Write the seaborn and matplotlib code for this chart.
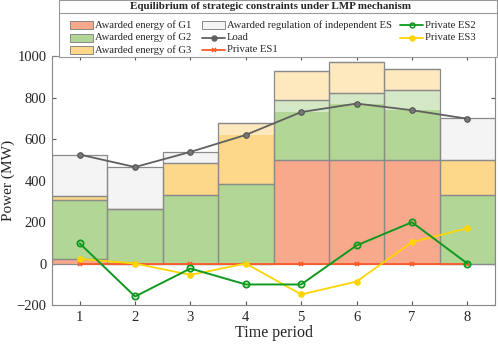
import numpy as np
import pandas as pd
import seaborn as sns
import matplotlib.pyplot as plt
from matplotlib.patches import Rectangle
from matplotlib.lines import Line2D
from matplotlib.colors import to_rgb

periods = [1, 2, 3, 4, 5, 6, 7, 8]
g1 = [22, 0, 0, 0, 500, 500, 500, 0]
g2 = [282, 265, 332, 385, 290, 324, 337, 329]
g3 = [22, 0, 153, 293, 137, 145, 99, 172]
es_reg = [199, 201, 53, 0, 0, 0, 0, 198]
load = [525, 465, 538, 620, 730, 771, 739, 698]
es1 = [0, 0, 0, 0, 0, 0, 0, 0]
es2 = [97, -159, -24, -101, -101, 87, 199, 0]
es3 = [22, 0, -55, 0, -149, -87, 103, 170]

c_g1 = '#F9A98B'
c_g2 = '#B2D695'
c_g3 = '#FDD78A'
c_es = '#F4F4F4'
c_load = '#606060'
c_es1 = '#FF5A28'
c_es2 = '#0E9A1E'
c_es3 = '#FFD500'

sns.set_style('ticks')
plt.rcParams['font.family'] = ['Liberation Serif', 'DejaVu Serif']

W, H = 498, 346
fig = plt.figure(figsize=(W / 100, H / 100), dpi=100)
ax = fig.add_axes([0.1044, 0.1185, 0.8896, 0.7195])


def fade(c, a=0.55):
    r = np.array(to_rgb(c))
    return tuple(r * a + (1 - a))


layers = [(g1, c_g1), (g2, c_g2), (g3, c_g3), (es_reg, c_es)]
x = np.array(periods)
L = np.array(load, dtype=float)
bottom = np.zeros(len(x))
for vals, col in layers:
    v = np.array(vals, dtype=float)
    top = bottom + v
    ax.bar(x, v, bottom=bottom, width=1.0, color=fade(col), linewidth=0)
    hi = np.minimum(top, np.maximum(L, bottom))
    ax.bar(x, hi - bottom, bottom=bottom, width=1.0, color=col, linewidth=0)
    bottom = top

bottom = np.zeros(len(x))
for vals, col in layers:
    v = np.array(vals, dtype=float)
    ax.bar(x, v, bottom=bottom, width=1.0, fill=False,
           edgecolor='#8a8a8a', linewidth=0.9)
    bottom = bottom + v

df = pd.DataFrame({'t': periods, 'load': load, 'es1': es1, 'es2': es2, 'es3': es3})
sns.lineplot(data=df, x='t', y='load', ax=ax, color=c_load, lw=1.3,
             marker='o', ms=4, mfc='#777777', mec='#505050')
sns.lineplot(data=df, x='t', y='es1', ax=ax, color=c_es1, lw=1.3,
             marker='x', ms=3.5, mew=1.2, mec=c_es1)
sns.lineplot(data=df, x='t', y='es3', ax=ax, color=c_es3, lw=1.3,
             marker='o', ms=4, mfc=c_es3, mec=c_es3)
sns.lineplot(data=df, x='t', y='es2', ax=ax, color=c_es2, lw=1.4,
             marker='o', ms=4.5, mfc='none', mec=c_es2, mew=1.3)

ax.set_xlim(0.5, 8.5)
ax.set_ylim(-200, 1000)
ax.set_xticks(periods)
ax.set_yticks(np.arange(-200, 1001, 200))
ax.tick_params(direction='in', length=3, labelsize=10.5, top=True, right=True,
               color='#555555', pad=4)
for s in ax.spines.values():
    s.set_color('#888888')
    s.set_linewidth(0.8)
ax.set_xlabel('Time period', fontsize=11.5, labelpad=1)
ax.set_ylabel('Power (MW)', fontsize=11, labelpad=1)


# legend box drawn by hand, in pixel coordinates from top-left
def fx(px):
    return px / W


def fy(py):
    return 1 - py / H


fig.add_artist(Rectangle((fx(59), fy(57)), fx(497) - fx(59), fy(0.5) - fy(57),
                         transform=fig.transFigure, facecolor='white',
                         edgecolor='#999999', lw=0.8, zorder=5))
fig.add_artist(Line2D([fx(59), fx(497)], [fy(12.5), fy(12.5)],
                      color='#999999', lw=0.8, transform=fig.transFigure, zorder=6))
fig.text(fx(270), fy(6.5), 'Equilibrium of strategic constraints under LMP mechanism',
         ha='center', va='center', fontsize=7.9, fontweight='bold', zorder=7)

rows = [25, 37.5, 50]
entries = [
    ('patch', c_g1, None, 'Awarded energy of G1', 70, rows[0]),
    ('patch', c_g2, None, 'Awarded energy of G2', 70, rows[1]),
    ('patch', c_g3, None, 'Awarded energy of G3', 70, rows[2]),
    ('patch', c_es, None, 'Awarded regulation of independent ES', 202, rows[0]),
    ('line', c_load, 'o', 'Load', 202, rows[1]),
    ('line', c_es1, 'x', 'Private ES1', 202, rows[2]),
    ('line', c_es2, 'o', 'Private ES2', 400, rows[0]),
    ('line', c_es3, 'o', 'Private ES3', 400, rows[1]),
]
for kind, col, mk, label, px, py in entries:
    if kind == 'patch':
        fig.add_artist(Rectangle((fx(px), fy(py + 4)), fx(23), 8 / H,
                                 transform=fig.transFigure, facecolor=col,
                                 edgecolor='#888888', lw=0.7, zorder=7))
    else:
        mfc = 'none' if col == c_es2 else col
        fig.add_artist(Line2D([fx(px), fx(px + 23)], [fy(py), fy(py)],
                              color=col, lw=1.3, transform=fig.transFigure, zorder=7))
        fig.add_artist(Line2D([fx(px + 11.5)], [fy(py)], color=col, marker=mk,
                              ms=3.5, mfc=mfc, mec=col, mew=1.1, lw=0,
                              transform=fig.transFigure, zorder=8))
    fig.text(fx(px + 25), fy(py), label, ha='left', va='center',
             fontsize=7.7, zorder=8)

fig.savefig('out.png', dpi=100)
